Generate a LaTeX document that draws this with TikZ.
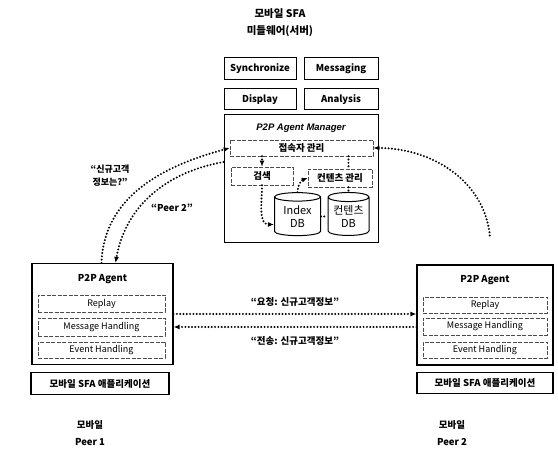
\documentclass[tikz,border=0pt]{standalone}
\usepackage{fontspec}
\setmainfont{Noto Sans CJK KR}
\newfontfamily\arialfont{Liberation Sans}
\usetikzlibrary{shapes.geometric,arrows.meta}
\begin{document}
\begin{tikzpicture}[x=1pt,y=1pt]
\tikzstyle{every node}+=[inner sep=0pt, font=\fontsize{9.5}{11}\selectfont\bfseries]
\tikzstyle{box}=[draw, line width=1pt, minimum width=72pt, minimum height=22pt]
\tikzstyle{sub}=[draw=black!70, line width=0.6pt, dash pattern=on 4pt off 1.5pt, minimum height=17pt, font=\fontsize{9}{11}\selectfont]
\tikzstyle{peer}=[draw, line width=1.2pt, minimum width=138pt, minimum height=101pt]
\tikzstyle{app}=[draw, line width=1.5pt, minimum width=138pt, minimum height=22pt]
\tikzstyle{db}=[draw, line width=1pt, cylinder, shape border rotate=90, aspect=0.3, align=center, minimum width=46pt, minimum height=43pt, font=\fontsize{11}{13}\selectfont]
\tikzstyle{dotline}=[line width=2.2pt, dash pattern=on 0pt off 3.3pt, line cap=round]
\tikzstyle{arrowed}=[-{Latex[length=6pt,width=5pt]}]
\useasboundingbox (0,0) rectangle (558,450);
\node[align=center, font=\fontsize{10.5}{17}\selectfont\bfseries] (srvtitle) at (280,427) {모바일 SFA\\미들웨어(서버)};
\node[box] (sync) at (260,381) {Synchronize};
\node[box, minimum width=74pt] (msg) at (341,381) {Messaging};
\node[box, minimum height=21pt] (disp) at (260,350.5) {Display};
\node[box, minimum width=74pt, minimum height=21pt] (anal) at (341,350.5) {Analysis};
\node[box, minimum width=154pt, minimum height=128pt] (mgr) at (301,271) {};
\node[font=\arialfont\bfseries\itshape\fontsize{9.5}{11}\selectfont] (mgrtitle) at (301,322) {P2P Agent Manager};
\node[sub, minimum width=143pt, minimum height=16pt, font=\fontsize{9.5}{11}\selectfont\bfseries] (conn) at (301.5,302) {접속자 관리};
\node[sub, minimum width=62pt, minimum height=18pt, font=\fontsize{9.5}{11}\selectfont\bfseries] (search) at (262,274) {검색};
\node[sub, minimum width=64pt, minimum height=18pt, font=\fontsize{9.5}{11}\selectfont\bfseries] (cmgr) at (340,272) {컨텐츠 관리};
\node[db] (idxdb) at (297.5,233.5) {Index\\DB};
\node[db, minimum width=41pt] (cdb) at (348.5,233.5) {컨텐츠\\DB};
\node[peer, minimum width=141pt] (peera) at (102.5,136) {};
\node (peeratitle) at (102.5,171) {P2P Agent};
\node[sub, minimum width=127pt] (replaya) at (101.5,146.5) {Replay};
\node[sub, minimum width=127pt, minimum height=18pt] (msgha) at (101.5,123) {Message Handling};
\node[sub, minimum width=127pt, minimum height=16pt] (evha) at (101.5,100) {Event Handling};
\node[app] (appa) at (100,66.5) {모바일 SFA 애플리케이션};
\node[align=center, font=\fontsize{9.5}{17}\selectfont\bfseries] (labela) at (90,17) {모바일\\Peer 1};
\node[peer, minimum width=136pt, minimum height=100pt] (peerb) at (485,135) {};
\node (peerbtitle) at (485,170) {P2P Agent};
\node[sub, minimum width=124pt, minimum height=16pt] (replayb) at (485,145) {Replay};
\node[sub, minimum width=124pt] (msghb) at (485,123.5) {Message Handling};
\node[sub, minimum width=124pt, minimum height=16pt] (evhb) at (485,100) {Event Handling};
\node[app, minimum width=136pt, minimum height=21pt] (appb) at (485,67) {모바일 SFA 애플리케이션};
\node[align=center, font=\fontsize{9.5}{17}\selectfont\bfseries] (labelb) at (452,17) {모바일\\Peer 2};
\node[align=center, font=\fontsize{9}{13}\selectfont\bfseries] (asklabel) at (110,274) {“신규고객\\정보는?”};
\node (peerlabel) at (172,242) {“Peer 2”};
\node (reqlabel) at (295,148) {“요청: 신규고객정보”};
\node (sendlabel) at (295,109) {“전송: 신규고객정보”};
\coordinate (rend) at (490,213);
\draw[dotline, arrowed] ([xshift=-1pt]peera.north) to[out=88, in=195] (conn.west);
\draw[dotline, arrowed] ([yshift=17pt]mgr.west) to[out=190, in=80] ([xshift=13pt]peera.north);
\draw[dotline, {Latex[length=6pt,width=5pt]}-] (conn.east) to[out=0, in=95] (rend);
\draw[dotline, arrowed] (peera.east) -- (peera.east -| peerb.west);
\draw[dotline, arrowed] ([yshift=-12pt]peerb.west) -- ([yshift=-13pt]peera.east);
\draw[dotline, arrowed] (search.north |- conn.south) -- (search.north);
\draw[dotline, arrowed] (search.south) to[out=-90, in=180] ([yshift=-8pt]idxdb.west);
\draw[dotline, arrowed] (idxdb.north) to[out=90, in=200] (cmgr.west);
\draw[dotline] (cdb.north |- conn.south) -- (cdb.north |- cmgr.north);
\draw[dotline] (cdb.north |- cmgr.south) -- (cdb.north);
\draw[dotline] (idxdb.east) -- (cdb.west);
\end{tikzpicture}
\end{document}
